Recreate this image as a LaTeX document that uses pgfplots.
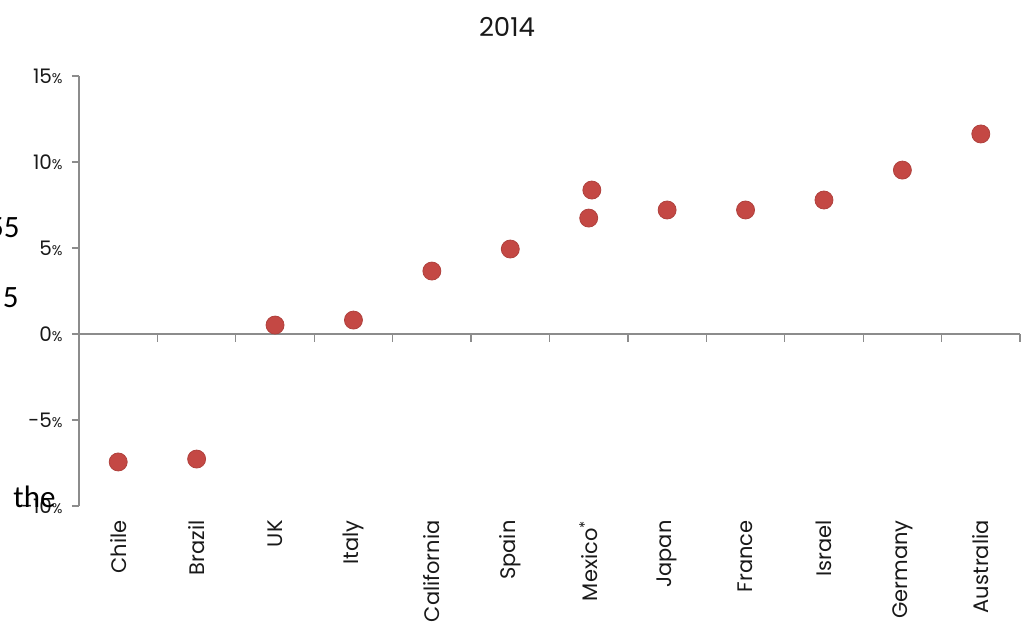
\documentclass[border=0pt]{standalone}
\usepackage{pgfplots}
\pgfplotsset{compat=1.18}
\usepackage{fontspec}
\setmainfont{Poppins}
\newfontfamily\calfont{Carlito}
\definecolor{dotred}{RGB}{196,72,68}
\definecolor{axgray}{RGB}{140,140,140}
\newcommand{\pc}{{\fontsize{7}{8}\selectfont\%}}
\begin{document}
\begin{tikzpicture}
\path[use as bounding box] (0,0) rectangle (513pt,312pt);
\begin{axis}[
  at={(39.5pt,59pt)}, anchor=south west,
  scale only axis, width=470.5pt, height=215pt,
  xmin=-0.5, xmax=11.5, ymin=-10, ymax=15,
  axis y line*=left, axis x line*=bottom,
  axis line style={-},
  x axis line style={draw=none},
  y axis line style={axgray, line width=0.7pt},
  tick align=outside,
  major tick length=3.5pt,
  ytick={-10,-5,0,5,10,15},
  yticklabels={-10\pc,-5\pc,0\pc,5\pc,10\pc,15\pc},
  y tick style={axgray, line width=0.6pt},
  yticklabel style={font=\fontsize{10}{11}\selectfont, text=black!90, inner sep=0pt, xshift=-4.5pt},
  xtick={0,...,11},
  xticklabels={Chile,Brazil,UK,Italy,California,Spain,Mexico\textsuperscript{*},Japan,France,Israel,Germany,Australia},
  x tick style={draw=none},
  xticklabel style={rotate=90, anchor=east, font=\fontsize{10.5}{11}\selectfont, text=black!90, inner sep=0pt, xshift=-3.5pt},
  clip=false,
]
\draw[axgray, line width=0.7pt] (axis cs:-0.5,0) -- (axis cs:11.5,0);
\pgfplotsinvokeforeach{0.5,1.5,...,11.5}{\draw[axgray, line width=0.6pt] (axis cs:#1,0) -- ([yshift=-4pt]axis cs:#1,0);}
\addplot[only marks, mark=*, mark size=4.5pt, color=dotred, mark options={fill=dotred, draw=dotred!90!black}]
coordinates {
(0,-7.44) (1,-7.27) (2,0.52) (3,0.81) (4,3.66) (5,4.94)
(6.04,8.37) (6,6.74) (7,7.21) (8,7.21) (9,7.79) (10,9.53) (11,11.63)
};
\end{axis}
\node[font=\fontsize{13}{15}\selectfont, text=black!90] at (253.5pt,298.5pt) {2014};
\node[font=\calfont\fontsize{15.5}{18}\selectfont, anchor=east, inner sep=0pt] at (10pt,198pt) {55};
\node[font=\calfont\fontsize{15.5}{18}\selectfont, anchor=east, inner sep=0pt] at (9.5pt,163pt) {5};
\node[font=\calfont\fontsize{15.5}{18}\selectfont, anchor=west, inner sep=0pt] at (6.5pt,63.5pt) {the};
\end{tikzpicture}
\end{document}
